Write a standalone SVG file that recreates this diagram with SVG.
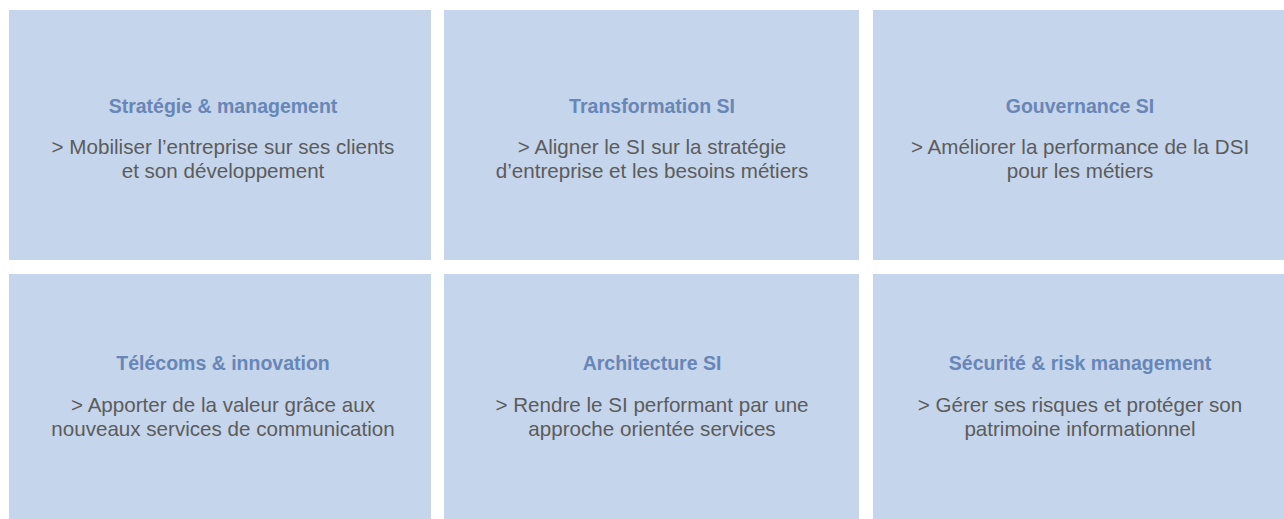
<svg xmlns="http://www.w3.org/2000/svg" width="1284" height="519" viewBox="0 0 1284 519">
<style>
.panel{fill:#c5d5eb}
.t{font-family:"Liberation Sans",Arial,sans-serif;font-weight:bold;font-size:19.5px;fill:#6886b6;text-anchor:middle}
.b{font-family:"Liberation Sans",Arial,sans-serif;font-size:20.6px;fill:#5c5c5c;text-anchor:middle}
</style>
<rect width="1284" height="519" fill="#ffffff"/>
<g id="strategie">
<rect class="panel" x="9" y="10" width="422" height="250"/>
<text class="t" x="223" y="113">Stratégie &amp; management</text>
<text class="b" x="223" y="154">&gt; Mobiliser l’entreprise sur ses clients</text>
<text class="b" x="223" y="178">et son développement</text>
</g>
<g id="transformation">
<rect class="panel" x="444" y="10" width="415" height="250"/>
<text class="t" x="652" y="113">Transformation SI</text>
<text class="b" x="652" y="154">&gt; Aligner le SI sur la stratégie</text>
<text class="b" x="652" y="178">d’entreprise et les besoins métiers</text>
</g>
<g id="gouvernance">
<rect class="panel" x="873" y="10" width="411" height="250"/>
<text class="t" x="1080" y="113">Gouvernance SI</text>
<text class="b" x="1080" y="154">&gt; Améliorer la performance de la DSI</text>
<text class="b" x="1080" y="178">pour les métiers</text>
</g>
<g id="telecoms">
<rect class="panel" x="9" y="274" width="422" height="245"/>
<text class="t" x="223" y="370">Télécoms &amp; innovation</text>
<text class="b" x="223" y="412">&gt; Apporter de la valeur grâce aux</text>
<text class="b" x="223" y="436">nouveaux services de communication</text>
</g>
<g id="architecture">
<rect class="panel" x="444" y="274" width="415" height="245"/>
<text class="t" x="652" y="370">Architecture SI</text>
<text class="b" x="652" y="412">&gt; Rendre le SI performant par une</text>
<text class="b" x="652" y="436">approche orientée services</text>
</g>
<g id="securite">
<rect class="panel" x="873" y="274" width="411" height="245"/>
<text class="t" x="1080" y="370">Sécurité &amp; risk management</text>
<text class="b" x="1080" y="412">&gt; Gérer ses risques et protéger son</text>
<text class="b" x="1080" y="436">patrimoine informationnel</text>
</g>
<g id="connectors"></g>
</svg>
